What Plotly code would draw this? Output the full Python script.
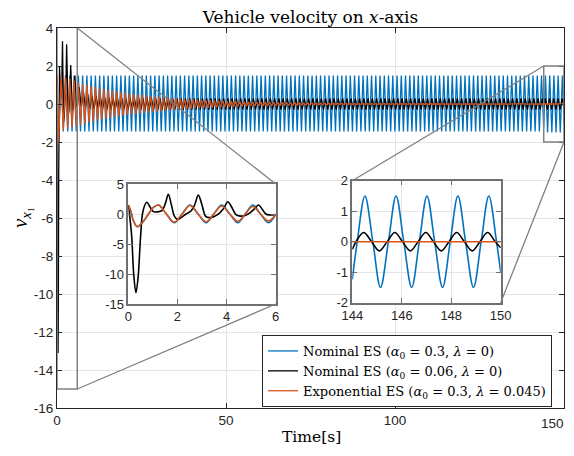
import numpy as np
import plotly.graph_objects as go

# ---------------- data ----------------
# Left inset window (0-6 s): turning points and zero crossings
t_a = [0.0, 0.1, 0.2, 0.36, 0.58, 0.82, 1.02, 1.23, 1.55, 1.87, 2.19, 2.51, 2.84,
       3.17, 3.48, 3.8, 4.13, 4.46, 4.76, 5.07, 5.38, 5.7, 6.0]
blue_a = [1.5, 0.5, -1.0, -2.1, -1.4, 0.0, 1.1, 1.5, 0.0, -1.45, 0.0, 1.5, 0.0,
          -1.45, 0.0, 1.5, 0.0, -1.45, 0.0, 1.5, 0.0, -1.45, -0.1]
orange_a = [1.5, 0.5, -1.0, -2.1, -1.4, 0.0, 1.1, 1.5, 0.0, -1.38, 0.0, 1.42, 0.0,
            -1.3, 0.0, 1.33, 0.0, -1.22, 0.0, 1.25, 0.0, -1.15, -0.08]
t_black_a = [0.0, 0.07, 0.14, 0.22, 0.31, 0.4, 0.5, 0.6, 0.75, 0.88, 1.02, 1.2, 1.38,
             1.52, 1.63, 1.75, 1.88, 2.0, 2.15, 2.35, 2.55, 2.7, 2.85, 3.0, 3.15,
             3.3, 3.5, 3.7, 3.88, 4.05, 4.2, 4.38, 4.55, 4.75, 4.95, 5.12, 5.3,
             5.45, 5.6, 5.75, 6.0]
black_a = [1.5, -0.8, -3.8, -10.0, -13.1, -10.5, -3.8, 0.5, 1.95, 1.2, 0.4, 0.35, 0.6,
           1.9, 3.3, 1.6, -0.4, -0.9, -0.6, 0.0, 0.5, 1.5, 3.15, 1.5, -0.4,
           -0.6, -0.4, 0.1, 0.9, 2.05, 1.2, -0.1, -0.35, -0.25, 0.2, 0.8, 1.5,
           0.8, 0.0, -0.15, -0.1]

# Right inset window (144-150 s)
t_blue_b = [144.0, 144.2, 144.51, 144.83, 145.14, 145.46, 145.77, 146.08, 146.4,
            146.71, 147.02, 147.33, 147.65, 147.96, 148.27, 148.58, 148.9, 149.21,
            149.52, 149.83, 150.0]
blue_b = [-1.24, 0.0, 1.5, 0.0, -1.5, 0.0, 1.5, 0.0, -1.5, 0.0, 1.5, 0.0, -1.5, 0.0,
          1.5, 0.0, -1.5, 0.0, 1.5, 0.0, -1.0]
t_black_b = [144.0, 144.15, 144.46, 144.78, 145.09, 145.41, 145.72, 146.03, 146.35,
             146.66, 146.97, 147.28, 147.6, 147.91, 148.22, 148.53, 148.85, 149.16,
             149.47, 149.78, 150.0]
black_b = [-0.25, 0.0, 0.3, 0.0, -0.3, 0.0, 0.3, 0.0, -0.3, 0.0, 0.3, 0.0, -0.3, 0.0,
           0.3, 0.0, -0.3, 0.0, 0.3, 0.0, -0.2]
t_orange_b = [144.0, 150.0]
orange_b = [0.0, 0.0]

# Middle part (6-144 s), too dense to read cycle by cycle: oscillation period
# read from the insets and peak envelopes read from the main axes
period = 1.257
blue_peak, blue_trough = 1.5, -1.45
env_t_orange = [6, 10, 15, 20, 27.5, 35, 42, 50, 57, 65, 75, 90, 144]
env_orange = [1.15, 0.95, 0.76, 0.6, 0.43, 0.31, 0.22, 0.16, 0.115, 0.08, 0.05, 0.02, 0.0]
env_t_black = [6.5, 8, 10, 14, 20, 144]
env_black_hi = [0.9, 0.6, 0.45, 0.35, 0.3, 0.3]
env_black_lo = [-0.15, -0.2, -0.25, -0.28, -0.3, -0.3]

series_names = [
    "Nominal ES (<i>α</i><sub>0</sub> = 0.3, <i>λ</i> = 0)",
    "Nominal ES (<i>α</i><sub>0</sub> = 0.06, <i>λ</i> = 0)",
    "Exponential ES (<i>α</i><sub>0</sub> = 0.3, <i>λ</i> = 0.045)",
]
colors = ["#0072BD", "#000000", "#D95319"]

main_x_ticks = [0, 50, 100, 150]
main_y_ticks = list(range(-16, 5, 2))
left_x_ticks = [0, 2, 4, 6]
left_y_ticks = [-15, -10, -5, 0, 5]
right_x_ticks = [144, 146, 148, 150]
right_y_ticks = [-2, -1, 0, 1, 2]
left_range_x, left_range_y = [0, 6], [-15, 5]
right_range_x, right_range_y = [144, 150], [-2, 2]


def lab(v):
    return str(v)


# ---------------- build the middle turning points ----------------
def turning(t_first, hi, lo):
    ts = np.arange(t_first, 143.9, period / 2)
    vals = [hi(t) if k % 2 == 0 else lo(t) for k, t in enumerate(ts)]
    return list(ts), vals


tb_m, vb_m = turning(6.33, lambda t: blue_peak, lambda t: blue_trough)
to_m, vo_m = turning(6.33, lambda t: np.interp(t, env_t_orange, env_orange),
                     lambda t: -np.interp(t, env_t_orange, env_orange))
tk_m, vk_m = turning(6.55, lambda t: np.interp(t, env_t_black, env_black_hi),
                     lambda t: np.interp(t, env_t_black, env_black_lo))

main_series = [
    (t_a + tb_m + t_blue_b, blue_a + vb_m + blue_b),
    (t_black_a + tk_m + t_black_b, black_a + vk_m + black_b),
    (t_a + to_m + t_orange_b, orange_a + vo_m + orange_b),
]
left_series = [(t_a, blue_a), (t_black_a, black_a), (t_a, orange_a)]
right_series = [(t_blue_b, blue_b), (t_black_b, black_b), (t_orange_b, orange_b)]

# ---------------- layout geometry ----------------
# the page puts the figure 8 px in from the top-left corner of the 574x456 window
OFF = 8
W, H = 574 - OFF, 456 - 2 * OFF
VISIBLE_RIGHT = 574 - OFF  # the page clips the graph div here


def px_x(px):
    return (px - OFF) / W


def px_y(py):
    return 1 - (py - OFF) / H


def dom(x0, x1, ytop, ybot):
    return [px_x(x0), px_x(x1)], [px_y(ybot), px_y(ytop)]


main_xd, main_yd = dom(57, 564, 28, 408)
left_xd, left_yd = dom(128.3, 275.7, 184, 304)
right_xd, right_yd = dom(352.3, 500.7, 180.7, 302.7)

fig = go.Figure()
for (x, y), name, c in zip(main_series, series_names, colors):
    fig.add_trace(go.Scatter(x=x, y=y, mode="lines", name=name,
                             line=dict(color=c, width=1.3), xaxis="x", yaxis="y"))
for (x, y), c in zip(left_series, colors):
    fig.add_trace(go.Scatter(x=x, y=y, mode="lines", showlegend=False,
                             line=dict(color=c, width=1.6, shape="spline", smoothing=1.0),
                             xaxis="x2", yaxis="y2"))
for (x, y), c in zip(right_series, colors):
    fig.add_trace(go.Scatter(x=x, y=y, mode="lines", showlegend=False,
                             line=dict(color=c, width=1.6, shape="spline", smoothing=1.0),
                             xaxis="x3", yaxis="y3"))

tickfont = dict(family="Liberation Sans, Arial", size=13.5, color="#262626")
serif = "DejaVu Serif"
grid = "#e4e4e4"
common = dict(ticks="inside", ticklen=5, tickcolor="#262626", showline=True,
              mirror="ticks", zeroline=False, showgrid=True, gridcolor=grid,
              tickfont=tickfont, automargin=False, ticklabeloverflow="allow")
inset_common = dict(common, linecolor="#707070", linewidth=1.5, tickcolor="#707070",
                    tickfont=dict(tickfont, size=13))

# the last main x tick label would be clipped by the page, so it is set as a
# right-aligned label at the visible edge instead
main_x_text = [lab(v) for v in main_x_ticks[:-1]] + [""]

fig.update_layout(
    width=W, height=H, margin=dict(l=0, r=0, t=0, b=0, autoexpand=False),
    plot_bgcolor="white", paper_bgcolor="white",
    xaxis=dict(common, domain=main_xd, range=[0, 150], tickvals=main_x_ticks,
               ticktext=main_x_text, linecolor="#262626", anchor="y"),
    yaxis=dict(common, domain=main_yd, range=[-16, 4], tickvals=main_y_ticks,
               ticktext=[lab(v) for v in main_y_ticks], linecolor="#262626", anchor="x"),
    xaxis2=dict(inset_common, domain=left_xd, range=left_range_x, tickvals=left_x_ticks,
                ticktext=[lab(v) for v in left_x_ticks], anchor="y2"),
    yaxis2=dict(inset_common, domain=left_yd, range=left_range_y, tickvals=left_y_ticks,
                ticktext=[lab(v) for v in left_y_ticks], anchor="x2"),
    xaxis3=dict(inset_common, domain=right_xd, range=right_range_x, tickvals=right_x_ticks,
                ticktext=[lab(v) for v in right_x_ticks], anchor="y3"),
    yaxis3=dict(inset_common, domain=right_yd, range=right_range_y, tickvals=right_y_ticks,
                ticktext=[lab(v) for v in right_y_ticks], anchor="x3"),
    title=dict(text="Vehicle velocity on <i>x</i>-axis", x=px_x(310.5), y=px_y(17),
               xanchor="center", yanchor="middle",
               font=dict(family=serif, size=17, color="black")),
    legend=dict(x=px_x(262), y=px_y(335), xanchor="left", yanchor="top",
                bgcolor="white", bordercolor="#262626", borderwidth=1,
                font=dict(family=serif, size=13, color="black"),
                tracegroupgap=0),
)

fig.add_annotation(text=lab(main_x_ticks[-1]), x=px_x(VISIBLE_RIGHT), y=px_y(423),
                   xref="paper", yref="paper", showarrow=False,
                   xanchor="right", yanchor="middle", font=tickfont)
fig.add_annotation(text="Time[s]", x=px_x(311), y=px_y(437), xref="paper", yref="paper",
                   showarrow=False, xanchor="center", yanchor="middle",
                   font=dict(family=serif, size=15.5, color="black"))
fig.add_annotation(text="<i>v</i><sub><i>x</i>₁</sub>", x=px_x(21), y=px_y(218),
                   xref="paper", yref="paper", textangle=-90, showarrow=False,
                   xanchor="center", yanchor="middle",
                   font=dict(family="Liberation Serif", size=21, color="black"))


# conversions
def main_to_paper(x, y):
    px = main_xd[0] + (x - 0) / 150 * (main_xd[1] - main_xd[0])
    py = main_yd[0] + (y + 16) / 20 * (main_yd[1] - main_yd[0])
    return px, py


def paper_to_main(px, py):
    x = (px - main_xd[0]) / (main_xd[1] - main_xd[0]) * 150
    y = -16 + (py - main_yd[0]) / (main_yd[1] - main_yd[0]) * 20
    return x, y


# white backgrounds of the insets (above main grid, under inset grid)
for xd, yd in [(left_xd, left_yd), (right_xd, right_yd)]:
    x0, y0 = paper_to_main(xd[0], yd[0])
    x1, y1 = paper_to_main(xd[1], yd[1])
    fig.add_shape(type="rect", xref="x", yref="y", x0=x0, x1=x1, y0=y0, y1=y1,
                  fillcolor="white", line=dict(width=0), layer="between")

zoom_col = "#808080"
# zoom rectangles on the main axes
for rx, ry in [(left_range_x, left_range_y), (right_range_x, right_range_y)]:
    fig.add_shape(type="rect", xref="x", yref="y", x0=rx[0], x1=rx[1], y0=ry[0], y1=ry[1],
                  line=dict(color=zoom_col, width=1.5))

# connector lines
conns = [
    (main_to_paper(left_range_x[1], 4), (left_xd[1], left_yd[1])),
    (main_to_paper(left_range_x[1], left_range_y[0]), (left_xd[1], left_yd[0])),
    (main_to_paper(right_range_x[0], right_range_y[1]), (right_xd[0], right_yd[1])),
    (main_to_paper(right_range_x[1], right_range_y[0]), (right_xd[1], right_yd[0])),
]
for (ax, ay), (bx, by) in conns:
    fig.add_shape(type="line", xref="paper", yref="paper", x0=ax, y0=ay, x1=bx, y1=by,
                  line=dict(color=zoom_col, width=1.3))

fig.write_html("out.html")
